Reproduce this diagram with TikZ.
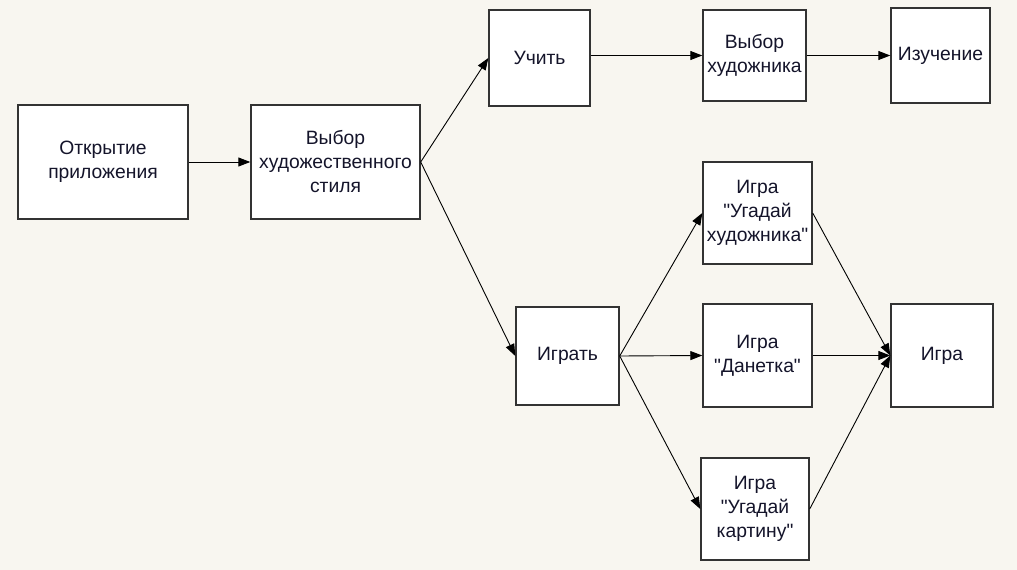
\documentclass[tikz,border=0pt]{standalone}
\usepackage{fontspec}
\setmainfont{Liberation Sans}[Ligatures=TeXOff]
\usetikzlibrary{arrows.meta}
\definecolor{bgc}{HTML}{F8F6F0}
\definecolor{edgec}{HTML}{333333}
\definecolor{txtc}{HTML}{14142A}
\tikzset{
  blk/.style={draw=edgec, line width=1.4pt, fill=white, align=center, text=txtc,
    font=\fontsize{19.3}{24}\selectfont, inner sep=0pt},
  conn/.style={draw=black, line width=0.9pt, -{Triangle[length=12pt,width=9pt]}}
}
\begin{document}
\begin{tikzpicture}[x=1pt,y=-1pt]
\fill[bgc] (0,0) rectangle (1017,570);
\useasboundingbox (0,0) rectangle (1017,570);
\node[blk, minimum width=170pt, minimum height=114pt] (open) at (103,162) {Открытие\\приложения};
\node[blk, minimum width=169pt, minimum height=114pt] (style) at (335.5,162) {Выбор\\художественного\\стиля};
\node[blk, minimum width=101pt, minimum height=96pt] (learn) at (539.5,58) {Учить};
\node[blk, minimum width=103pt, minimum height=91pt] (artist) at (754.5,55.5) {Выбор\\художника};
\node[blk, minimum width=99pt, minimum height=95pt] (study) at (940.5,55.5) {Изучение};
\node[blk, minimum width=103pt, minimum height=98pt] (play) at (567.5,356) {Играть};
\node[blk, minimum width=109pt, minimum height=102pt] (g1) at (757.5,213) {Игра\\"Угадай\\художника"};
\node[blk, minimum width=109pt, minimum height=103pt] (g2) at (757.5,355.5) {Игра\\"Данетка"};
\node[blk, minimum width=108pt, minimum height=102pt] (g3) at (755,509) {Игра\\"Угадай\\картину"};
\node[blk, minimum width=102pt, minimum height=103pt] (game) at (942,355.5) {Игра};
\draw[conn] (open.east) -- (style.west);
\draw[conn] (style.east) -- (learn.west);
\draw[conn] (style.east) -- (play.west);
\draw[conn] (learn.east |- artist.west) -- (artist.west);
\draw[conn] (artist.east) -- (study.west);
\draw[conn] (play.east) -- (g1.west);
\draw[conn] (play.east) -- (g2.west);
\draw[conn] (play.east) -- (g3.west);
\draw[conn] (g1.east) -- (game.west);
\draw[conn] (g2.east) -- (game.west);
\draw[conn] (g3.east) -- (game.west);
\end{tikzpicture}
\end{document}
